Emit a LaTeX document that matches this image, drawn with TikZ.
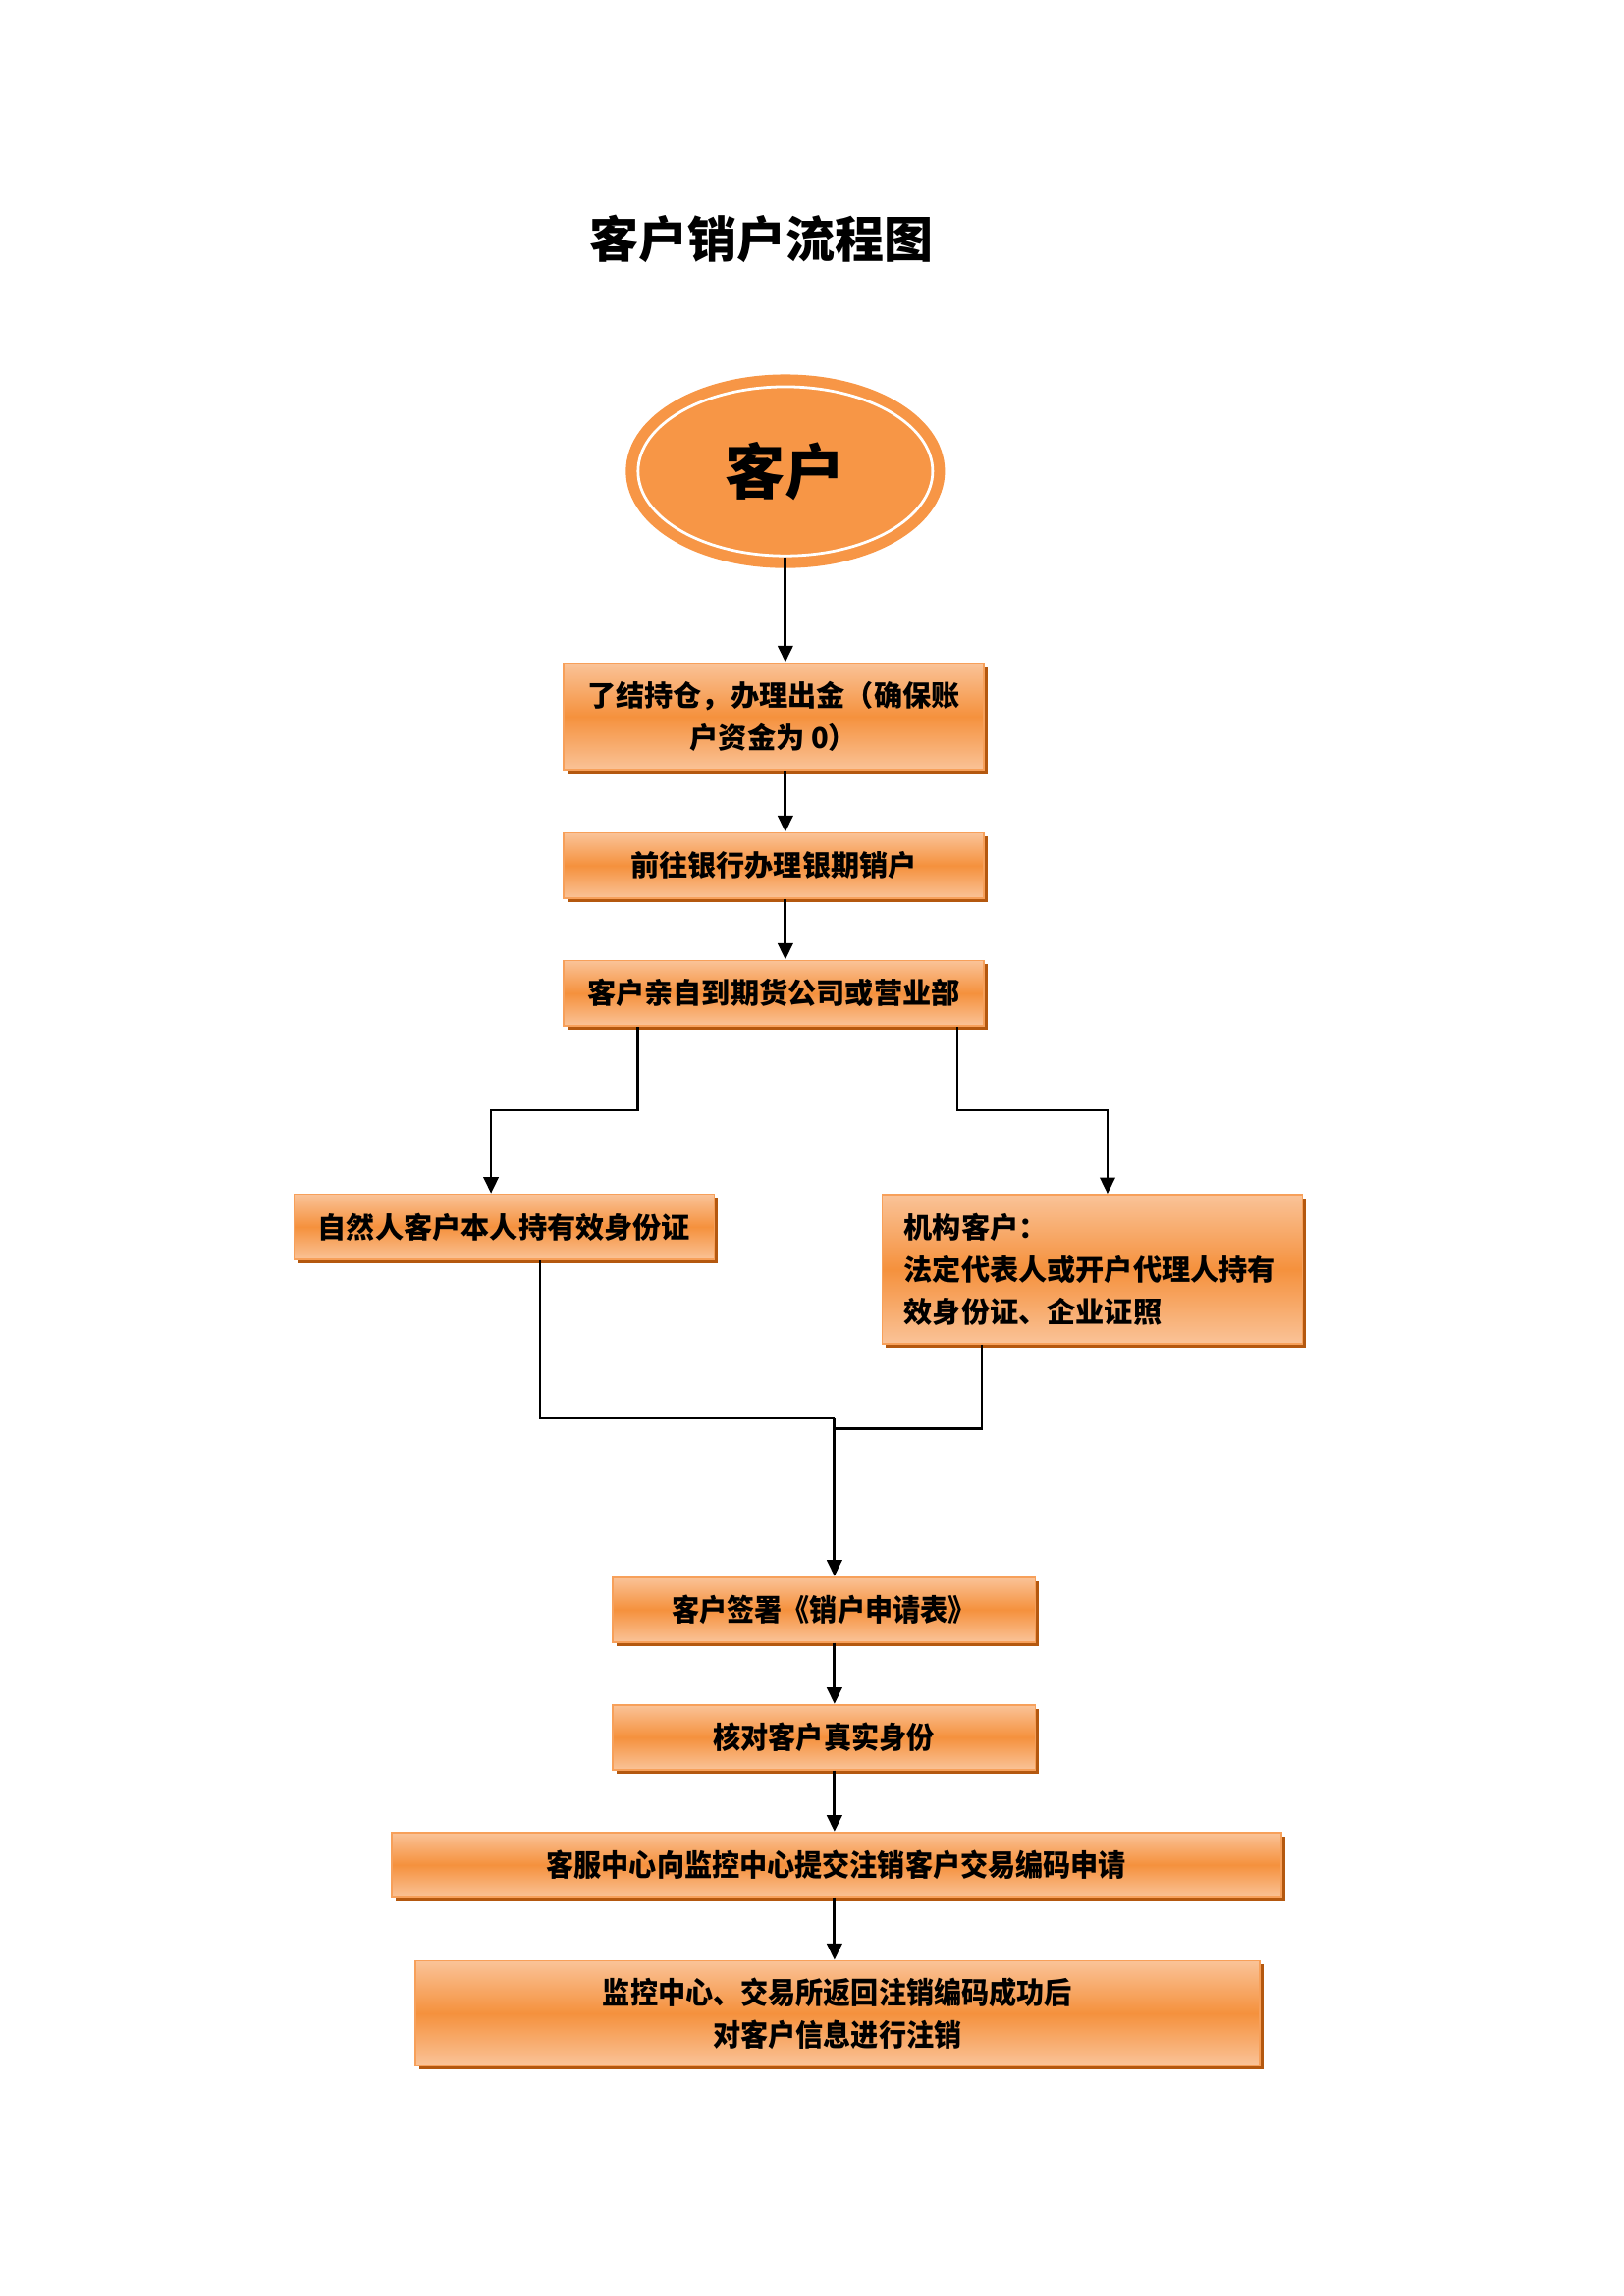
\documentclass[tikz,border=0pt]{standalone}
\usepackage{fontspec}
\setmainfont{Noto Sans CJK SC}
\newfontfamily\narrowcjk[FakeStretch=0.92]{Noto Sans CJK SC}
\usepackage{tikz}
\usetikzlibrary{arrows.meta, shapes.geometric, shadows}
\definecolor{OrangeMid}{HTML}{F5913D}
\definecolor{OrangeLight}{HTML}{FAC398}
\definecolor{OrangeEdge}{HTML}{F7A05A}
\definecolor{OrangeShadow}{HTML}{B4580F}
\definecolor{EllFill}{HTML}{F79646}

\begin{document}
\begin{tikzpicture}[
    font=\bfseries\fontsize{10.5}{15.5}\selectfont,
    box/.style={draw=OrangeEdge, line width=0.6pt, top color=OrangeLight, bottom color=OrangeLight, middle color=OrangeMid,
        align=center, minimum width=154pt, minimum height=24pt, inner sep=2pt,
        drop shadow={shadow xshift=1.4pt, shadow yshift=-1.4pt, fill=OrangeShadow, opacity=1}},
    narrow/.style={font=\narrowcjk\bfseries\fontsize{11}{15.5}\selectfont},
    link/.style={line width=1pt},
    >={Triangle[length=6pt, width=5.5pt]}]
\useasboundingbox (0,0) rectangle (595.3pt,-841.9pt);
\node[font=\bfseries\fontsize{18}{22}\selectfont] (title) at (279.3pt,-87.5pt) {客户销户流程图};
\node[ellipse, minimum width=108pt, minimum height=62pt, fill=EllFill, draw=white, line width=1pt,
    preaction={draw=EllFill, line width=9pt}, font=\bfseries\fontsize{22}{26}\selectfont] (ell) at (287.9pt,-172.8pt) {客户};
\node[box, minimum height=39.2pt] (settle) at (283.6pt,-262.7pt) {了结持仓，办理出金（确保账\\户资金为 0）};
\node[box] (bank) at (283.6pt,-317.4pt) {前往银行办理银期销户};
\node[box] (visit) at (283.6pt,-364.2pt) {客户亲自到期货公司或营业部};
\node[box] (person) at (184.8pt,-449.9pt) {自然人客户本人持有效身份证};
\node[box, align=left, text width=138pt, inner xsep=8pt, minimum height=54.7pt] (org) at (400.4pt,-465.4pt)
    {机构客户：\\法定代表人或开户代理人持有\\效身份证、企业证照};
\node[box, narrow, minimum width=155pt, minimum height=23.8pt] (sign) at (302pt,-590.2pt) {客户签署《销户申请表》};
\node[box, narrow, minimum width=155pt, minimum height=23.8pt] (check) at (302pt,-637pt) {核对客户真实身份};
\node[box, narrow, minimum width=326pt, minimum height=23.8pt] (submit) at (306.6pt,-683.8pt) {客服中心向监控中心提交注销客户交易编码申请};
\node[box, narrow, minimum width=309.5pt, minimum height=38.5pt] (cancel) at (307pt,-738.2pt) {监控中心、交易所返回注销编码成功后\\对客户信息进行注销};
\coordinate (splitL) at (233.9pt,-407.1pt);
\coordinate (splitR) at (350.9pt,-407.1pt);
\coordinate (merge) at (305.9pt,-520.1pt);
\draw[link,->] (ell.south) -- (ell.south |- settle.north);
\draw[link,->] (settle.south -| ell) -- (bank.north -| ell);
\draw[link,->] (bank.south -| ell) -- (visit.north -| ell);
\draw[link,->] (visit.south -| splitL) -- (splitL) -| ([xshift=-4.8pt]person.north);
\draw[link,->] (visit.south -| splitR) -- (splitR) -| ([xshift=5.6pt]org.north);
\draw[link] ([xshift=13.2pt]person.south) |- (merge);
\draw[link] ([xshift=-40.5pt]org.south) |- ([yshift=-3.9pt]merge);
\draw[link,->] (merge) -- (merge |- sign.north);
\draw[link,->] (sign.south -| merge) -- (check.north -| merge);
\draw[link,->] (check.south -| merge) -- (submit.north -| merge);
\draw[link,->] (submit.south -| merge) -- (cancel.north -| merge);
\end{tikzpicture}
\end{document}
